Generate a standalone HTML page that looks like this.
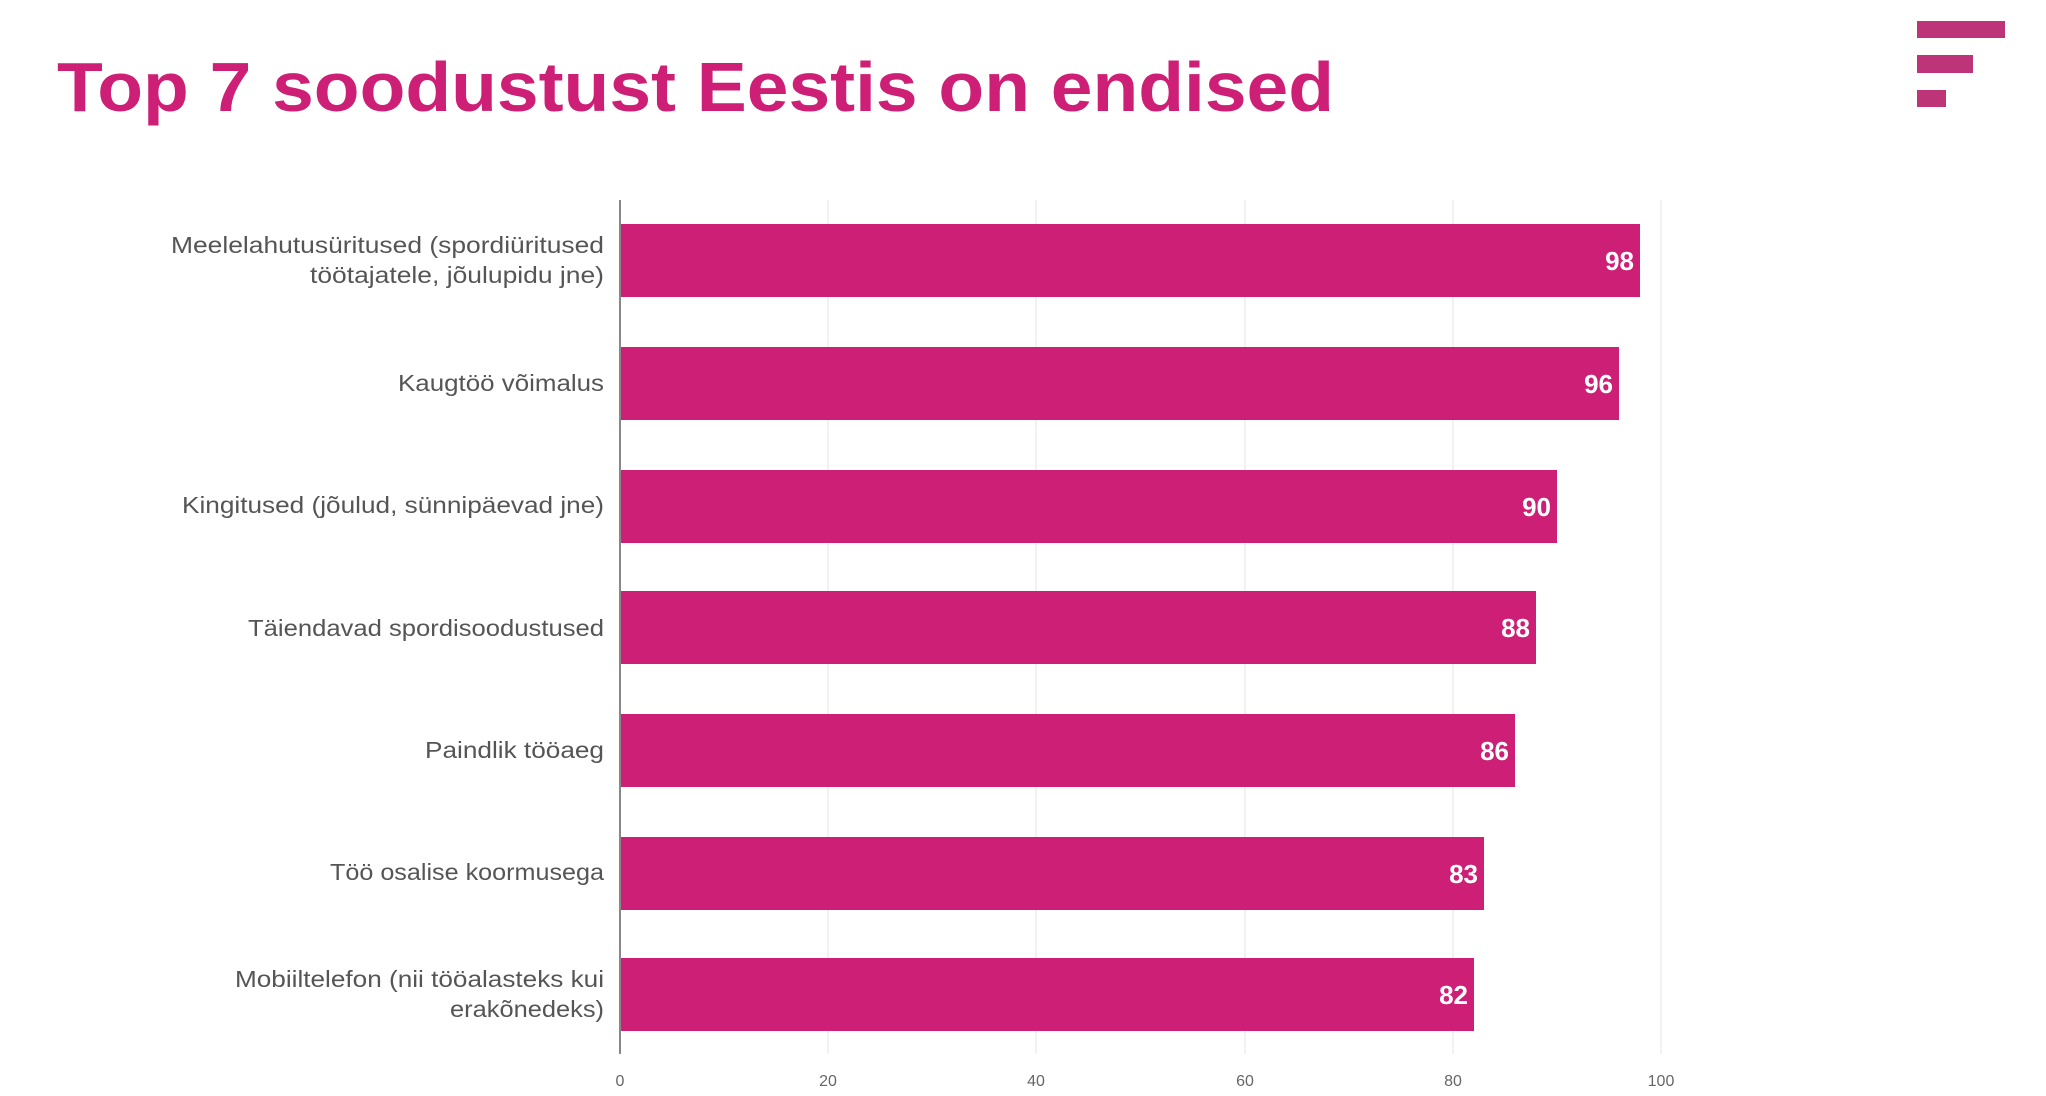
<!DOCTYPE html>
<html><head><meta charset="utf-8"><style>body{margin:0;background:#fff}svg{display:block}</style></head><body>
<svg width="2046" height="1096" xmlns="http://www.w3.org/2000/svg" font-family="Liberation Sans, sans-serif">
<text x="57" y="111" font-size="70" font-weight="bold" fill="#cc1f75" textLength="1277" lengthAdjust="spacingAndGlyphs">Top 7 soodustust Eestis on endised</text>
<g fill="#be3478"><rect x="1917" y="21" width="88" height="17"/><rect x="1917" y="55" width="56" height="18"/><rect x="1917" y="90" width="29" height="17"/></g>
<g stroke="#eeeeee" stroke-width="1.5">
<line x1="828" y1="200" x2="828" y2="1054"/><line x1="1036" y1="200" x2="1036" y2="1054"/><line x1="1245" y1="200" x2="1245" y2="1054"/><line x1="1453" y1="200" x2="1453" y2="1054"/><line x1="1661" y1="200" x2="1661" y2="1054"/></g>
<g fill="#cc1f75">
<rect x="620" y="224" width="1020" height="73"/>
<rect x="620" y="347" width="999" height="73"/>
<rect x="620" y="470" width="937" height="73"/>
<rect x="620" y="591" width="916" height="73"/>
<rect x="620" y="714" width="895" height="73"/>
<rect x="620" y="837" width="864" height="73"/>
<rect x="620" y="958" width="854" height="73"/>
</g>
<line x1="620" y1="200" x2="620" y2="1054" stroke="#888" stroke-width="2"/>
<g fill="#fff" font-size="26" font-weight="bold" text-anchor="end">
<text x="1634" y="270">98</text><text x="1613" y="393">96</text><text x="1551" y="516">90</text><text x="1530" y="637">88</text><text x="1509" y="760">86</text><text x="1478" y="883">83</text><text x="1468" y="1004">82</text>
</g>
<g fill="#555" font-size="23" text-anchor="end">
<text x="604" y="253" textLength="433" lengthAdjust="spacingAndGlyphs">Meelelahutusüritused (spordiüritused</text><text x="604" y="283" textLength="294" lengthAdjust="spacingAndGlyphs">töötajatele, jõulupidu jne)</text>
<text x="604" y="391" textLength="206" lengthAdjust="spacingAndGlyphs">Kaugtöö võimalus</text>
<text x="604" y="513" textLength="422" lengthAdjust="spacingAndGlyphs">Kingitused (jõulud, sünnipäevad jne)</text>
<text x="604" y="636" textLength="356" lengthAdjust="spacingAndGlyphs">Täiendavad spordisoodustused</text>
<text x="604" y="758" textLength="179" lengthAdjust="spacingAndGlyphs">Paindlik tööaeg</text>
<text x="604" y="880" textLength="274" lengthAdjust="spacingAndGlyphs">Töö osalise koormusega</text>
<text x="604" y="987" textLength="369" lengthAdjust="spacingAndGlyphs">Mobiiltelefon (nii tööalasteks kui</text><text x="604" y="1017" textLength="154" lengthAdjust="spacingAndGlyphs">erakõnedeks)</text>
</g>
<g fill="#666" font-size="16" text-anchor="middle">
<text x="620" y="1086">0</text><text x="828" y="1086">20</text><text x="1036" y="1086">40</text><text x="1245" y="1086">60</text><text x="1453" y="1086">80</text><text x="1661" y="1086">100</text>
</g>
</svg>
</body></html>
